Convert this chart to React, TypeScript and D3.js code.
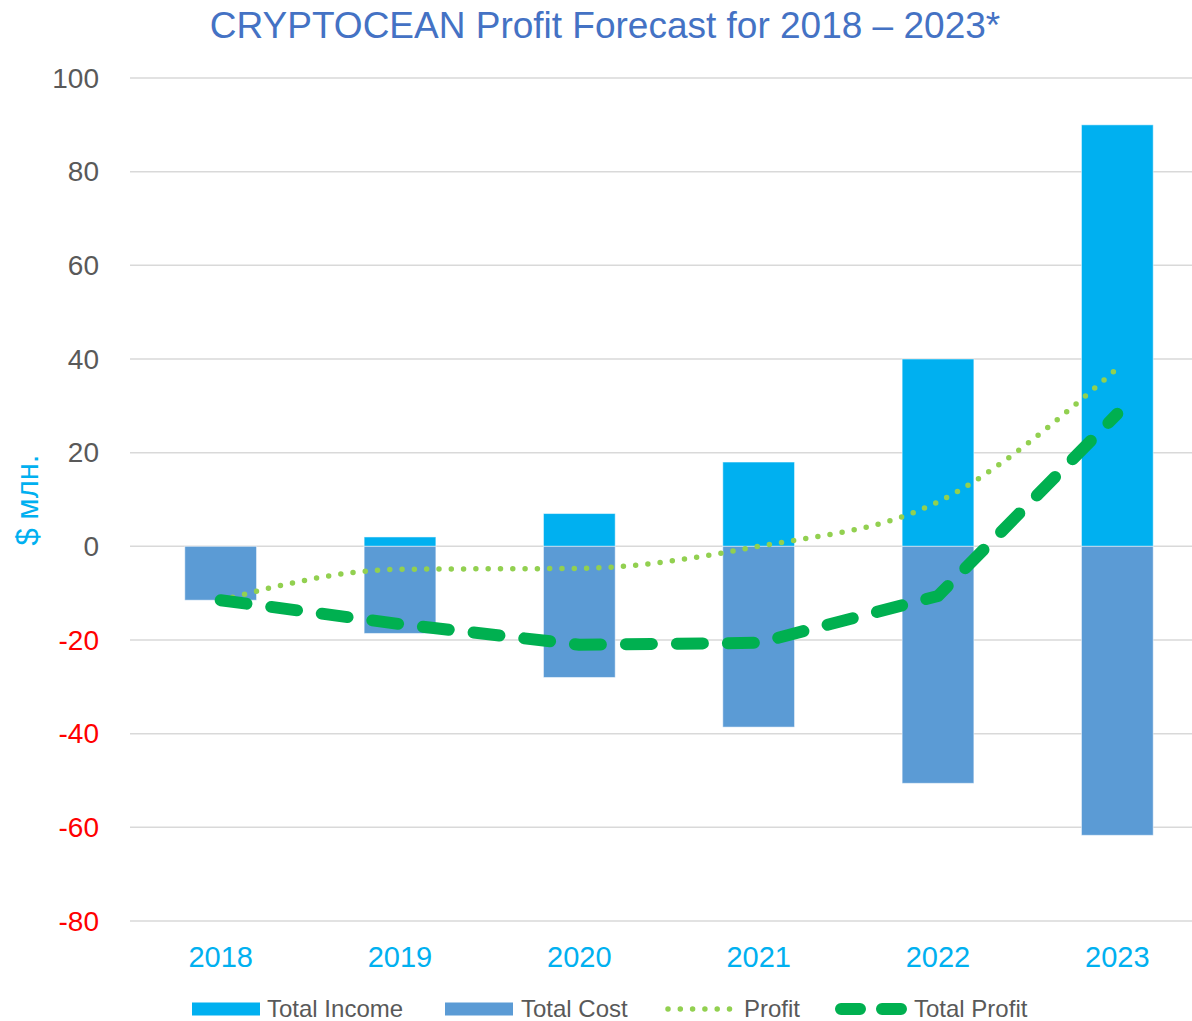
import * as d3 from "d3";

const years = ["2018", "2019", "2020", "2021", "2022", "2023"];
const totalIncome = [0, 2, 7, 18, 40, 90];
const totalCost = [-11.5, -18.6, -28, -38.6, -50.6, -61.7];
const profit = [-11.5, -4.9, -4.7, 0, 9.5, 38];
const totalProfit = [-11.5, -16.6, -21, -20.6, -10.6, 28.3];
const yTicks = [100, 80, 60, 40, 20, 0, -20, -40, -60, -80];

const W = 1192;
const H = 1021;
const font = "'Liberation Sans', Arial, sans-serif";

const App = () => {
  const x = d3
    .scaleBand()
    .domain(years)
    .range([131, 1207])
    .paddingInner(0.6)
    .paddingOuter(0.3);
  const y = d3.scaleLinear().domain([-80, 100]).range([921, 78]);
  const cx = (d: string) => (x(d) ?? 0) + x.bandwidth() / 2;

  const profitLine = d3
    .line<number>()
    .x((_, i) => cx(years[i]))
    .y((v) => y(v))
    .curve(d3.curveMonotoneX);
  const totalLine = d3
    .line<number>()
    .x((_, i) => cx(years[i]))
    .y((v) => y(v));

  const legend = [
    { label: "Total Income", kind: "income", x: 192, tx: 75 },
    { label: "Total Cost", kind: "cost", x: 445, tx: 76 },
    { label: "Profit", kind: "profit", x: 665, tx: 79 },
    { label: "Total Profit", kind: "total", x: 835, tx: 79 },
  ];

  return (
    <svg
      width={W}
      height={H}
      style={{ position: "absolute", left: 0, top: 0, fontFamily: font }}
    >
      <rect width={W} height={H} fill="#fff" />
      <text x={605} y={38} textAnchor="middle" fontSize={37} fill="#4472C4">
        CRYPTOCEAN Profit Forecast for 2018 – 2023*
      </text>

      {/* gridlines */}
      {yTicks.map((t) => (
        <line
          key={t}
          x1={130}
          x2={W}
          y1={y(t)}
          y2={y(t)}
          stroke="#D9D9D9"
          strokeWidth={1.5}
        />
      ))}

      {/* y tick labels */}
      {yTicks.map((t) => (
        <text
          key={t}
          x={99}
          y={y(t)}
          dy="0.35em"
          textAnchor="end"
          fontSize={28}
          fill={t < 0 ? "#FF0000" : "#595959"}
        >
          {t}
        </text>
      ))}

      <text
        transform={`translate(38,500) rotate(-90)`}
        textAnchor="middle"
        fontSize={31}
        fill="#00B0F0"
      >
        $ млн.
      </text>

      {/* bars */}
      {years.map((yr, i) => (
        <g key={yr}>
          {totalIncome[i] > 0 && (
            <rect
              x={x(yr)}
              y={y(totalIncome[i])}
              width={x.bandwidth()}
              height={y(0) - y(totalIncome[i])}
              fill="#00B0F0"
              stroke="#ffffff"
              strokeOpacity={0.5}
              strokeWidth={1}
            />
          )}
          <rect
            x={x(yr)}
            y={y(0)}
            width={x.bandwidth()}
            height={y(totalCost[i]) - y(0)}
            fill="#5B9BD5"
            stroke="#ffffff"
            strokeOpacity={0.5}
            strokeWidth={1}
          />
        </g>
      ))}

      {/* x labels */}
      {years.map((yr) => (
        <text
          key={yr}
          x={cx(yr)}
          y={967}
          textAnchor="middle"
          fontSize={29}
          fill="#00B0F0"
        >
          {yr}
        </text>
      ))}

      {/* lines */}
      <path
        d={profitLine(profit) ?? ""}
        fill="none"
        stroke="#92D050"
        strokeWidth={5.5}
        strokeLinecap="round"
        strokeDasharray="0 12.3"
      />
      <path
        d={totalLine(totalProfit) ?? ""}
        fill="none"
        stroke="#00B050"
        strokeWidth={12}
        strokeLinecap="round"
        strokeLinejoin="round"
        strokeDasharray="26 25"
      />

      {/* legend */}
      {legend.map((l) => (
        <g key={l.label} transform={`translate(${l.x},1009)`}>
          {l.kind === "income" && (
            <rect x={0} y={-6.5} width={68} height={13} fill="#00B0F0" />
          )}
          {l.kind === "cost" && (
            <rect x={0} y={-6.5} width={68} height={13} fill="#5B9BD5" />
          )}
          {l.kind === "profit" && (
            <line
              x1={3}
              x2={68}
              y1={0}
              y2={0}
              stroke="#92D050"
              strokeWidth={5.5}
              strokeLinecap="round"
              strokeDasharray="0 12.3"
            />
          )}
          {l.kind === "total" && (
            <line
              x1={6}
              x2={66}
              y1={0}
              y2={0}
              stroke="#00B050"
              strokeWidth={12}
              strokeLinecap="round"
              strokeDasharray="19 22"
            />
          )}
          <text x={l.tx} y={0} dy="0.33em" fontSize={24} fill="#595959">
            {l.label}
          </text>
        </g>
      ))}
    </svg>
  );
};

export default App;
